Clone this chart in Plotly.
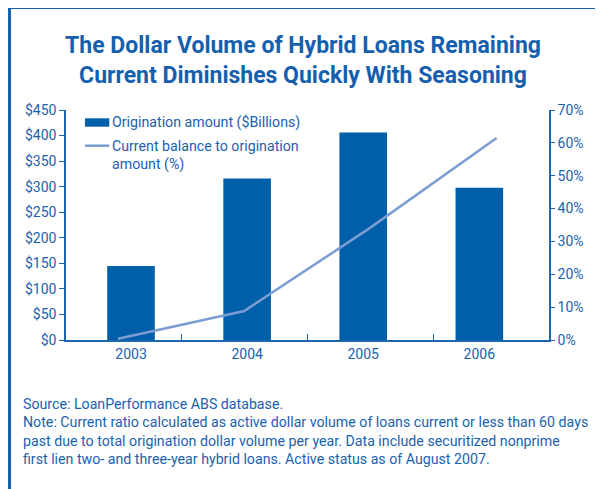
import plotly.graph_objects as go

years = ["2003", "2004", "2005", "2006"]
origination_bn = [145, 316, 406, 298]
current_ratio_pct = [0.4, 8.8, 34.2, 61.5]
left_ticks = [0, 50, 100, 150, 200, 250, 300, 350, 400, 450]
right_ticks = [0, 10, 20, 30, 40, 50, 60, 70]

title_text = ("The Dollar Volume of Hybrid Loans Remaining<br>"
              "Current Diminishes Quickly With Seasoning")
legend_bar = "Origination amount ($Billions)"
legend_line = "Current balance to origination<br>amount (%)"
footnote = ("Source: LoanPerformance ABS database.<br>"
            "Note: Current ratio calculated as active dollar volume of loans current or less than 60 days<br>"
            "past due to total origination dollar volume per year. Data include securitized nonprime<br>"
            "first lien two- and three-year hybrid loans. Active status as of August 2007.")

FONT = "Roboto, Liberation Sans, sans-serif"
BAR = "#005FA9"
LINE = "#7C9DD3"
TXT = "#1A62AE"
AX = "#1F64AF"

OFF = 8  # page body margin
W, H = 603, 489
# plot area in page pixels: x 66..549.3, y 110..340
L = 66 - OFF
T = 110 - OFF
R = W - (549.3 - OFF)
B = H - (340 - OFF)
pw, ph = W - L - R, H - T - B


def px(x):
    return (x - OFF - L) / pw


def py(y):
    return (H - B - (y - OFF)) / ph


fig = go.Figure()
fig.add_trace(go.Bar(x=years, y=origination_bn, marker=dict(color=BAR, line=dict(width=0)),
                     width=0.41, name=legend_bar, showlegend=False, xaxis="x", yaxis="y"))
fig.add_trace(go.Scatter(x=years, y=current_ratio_pct, mode="lines",
                         line=dict(color=LINE, width=2.5), name="Current balance to origination amount (%)",
                         showlegend=False, xaxis="x2", yaxis="y2"))

fig.update_layout(
    width=W, height=H,
    margin=dict(l=L, r=R, t=T, b=B),
    paper_bgcolor="white", plot_bgcolor="white",
    font=dict(family=FONT, size=14, color=TXT),
    title=dict(text=title_text, x=(303 - OFF) / W, xref="container", xanchor="center",
               y=1 - (53 - OFF) / H, yref="container", yanchor="middle",
               font=dict(family=FONT, size=23, color="#1560AE", weight="bold")),
    xaxis=dict(type="category", categoryarray=years, range=[-0.56, 3.6],
               showline=True, linecolor=AX, linewidth=1.5, ticks="", showgrid=False,
               tickfont=dict(size=14, color=TXT), fixedrange=True),
    xaxis2=dict(type="category", categoryarray=years, range=[-0.412, 3.415],
                overlaying="x", anchor="y", side="bottom", showline=False, showgrid=False,
                showticklabels=False, ticks="inside", tickson="boundaries", ticklen=6,
                tickwidth=1.2, tickcolor=AX),
    yaxis=dict(range=[0, 450], tickmode="array", tickvals=left_ticks,
               ticktext=["$" + str(v) for v in left_ticks], showline=True, linecolor=AX,
               linewidth=1.5, ticks="outside", ticklen=5, tickwidth=1.2, tickcolor=AX,
               showgrid=False, zeroline=False, tickfont=dict(size=14, color=TXT)),
    yaxis2=dict(range=[0, 70], tickmode="array", tickvals=right_ticks,
                ticktext=[str(v) + "%" for v in right_ticks], overlaying="y", anchor="x",
                side="right", showline=True, linecolor=AX, linewidth=1.5, ticks="outside",
                ticklen=4, tickwidth=1.2, tickcolor=AX, showgrid=False, zeroline=False,
                tickfont=dict(size=14, color=TXT)),
    shapes=[
        dict(type="rect", xref="paper", yref="paper", x0=px(9.5), x1=px(660), y0=py(540), y1=py(7.5),
             line=dict(color="#1560AE", width=3), fillcolor="rgba(0,0,0,0)", layer="below"),
        dict(type="rect", xref="paper", yref="paper", x0=px(85), x1=px(109.3), y0=py(126.7), y1=py(118.3),
             line=dict(width=0), fillcolor=BAR),
        dict(type="line", xref="paper", yref="paper", x0=px(85), x1=px(109.3), y0=py(145.7), y1=py(145.7),
             line=dict(color=LINE, width=2.5)),
    ],
    annotations=[
        dict(text=legend_bar, xref="paper", yref="paper", x=px(110.5), y=py(122), xanchor="left",
             yanchor="middle", showarrow=False, align="left", font=dict(size=14.2, color=TXT)),
        dict(text=legend_line, xref="paper", yref="paper", x=px(110.5), y=py(155), xanchor="left",
             yanchor="middle", showarrow=False, align="left", font=dict(size=14.2, color=TXT)),
        dict(text=footnote, xref="paper", yref="paper", x=px(21), y=py(431.4), xanchor="left",
             yanchor="middle", showarrow=False, align="left", font=dict(size=14.2, color=TXT)),
    ],
)

fig.write_html("out.html")
